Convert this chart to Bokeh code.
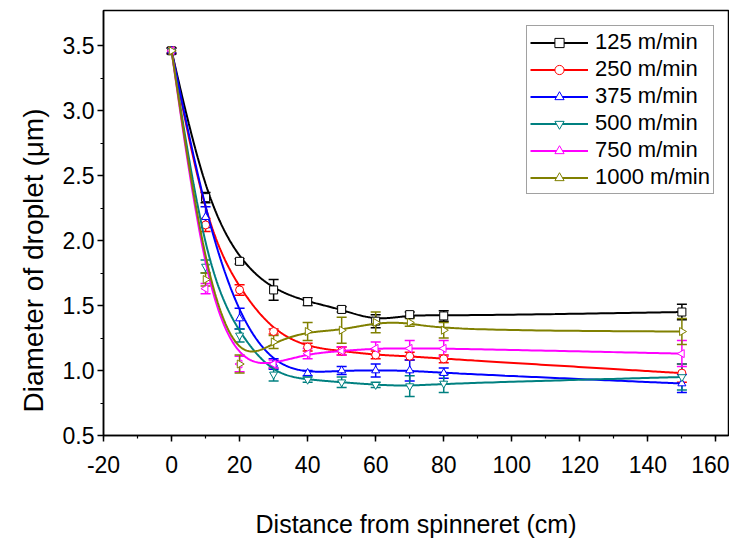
import numpy as np
from bokeh.plotting import figure
from bokeh.models import (Range1d, ColumnDataSource, Whisker, TeeHead, Legend,
                          LegendItem, FixedTicker, PrintfTickFormatter, Title)
from bokeh.embed import file_html
from bokeh.resources import INLINE

# ---------------- data ----------------
distance = [0, 10, 20, 30, 40, 50, 60, 70, 80, 150]
series_labels = ["125 m/min", "250 m/min", "375 m/min", "500 m/min", "750 m/min", "1000 m/min"]

d125 = [3.46, 2.33, 1.84, 1.62, 1.53, 1.47, 1.38, 1.43, 1.42, 1.45]
e125 = [0.02, 0.04, 0.02, 0.08, 0.03, 0.02, 0.05, 0.02, 0.04, 0.06]
d250 = [3.46, 2.12, 1.62, 1.30, 1.18, 1.15, 1.12, 1.11, 1.09, 0.98]
e250 = [0.02, 0.05, 0.04, 0.02, 0.03, 0.03, 0.03, 0.03, 0.03, 0.07]
d375 = [3.46, 2.18, 1.40, 1.05, 0.98, 1.00, 1.00, 1.00, 0.98, 0.90]
e375 = [0.02, 0.08, 0.08, 0.04, 0.02, 0.03, 0.05, 0.08, 0.04, 0.07]
d500 = [3.46, 1.80, 1.27, 0.97, 0.93, 0.91, 0.89, 0.88, 0.90, 0.95]
e500 = [0.02, 0.05, 0.05, 0.05, 0.02, 0.04, 0.02, 0.08, 0.07, 0.10]
d750 = [3.46, 1.63, 1.05, 1.05, 1.13, 1.15, 1.17, 1.17, 1.17, 1.13]
e750 = [0.02, 0.04, 0.06, 0.03, 0.04, 0.03, 0.05, 0.06, 0.06, 0.10]
d1000 = [3.46, 1.70, 1.05, 1.22, 1.30, 1.31, 1.37, 1.37, 1.31, 1.30]
e1000 = [0.02, 0.05, 0.07, 0.05, 0.07, 0.10, 0.08, 0.03, 0.06, 0.10]

values = [d125, d250, d375, d500, d750, d1000]
errors = [e125, e250, e375, e500, e750, e1000]
colors = ["#000000", "#FF0000", "#0000FF", "#008080", "#FF00FF", "#808000"]
markers = ["square", "circle", "triangle", "inverted_triangle", "triangle", "triangle"]
angles = [0, 0, 0, 0, np.pi / 2, -np.pi / 2]

x_ticks = [-20, 0, 20, 40, 60, 80, 100, 120, 140, 160]
y_ticks = [0.5, 1.0, 1.5, 2.0, 2.5, 3.0, 3.5]


def bspline(xs, ys, n=40):
    """Clamped uniform cubic B-spline using the points as control points."""
    px = np.array([xs[0]] * 2 + list(xs) + [xs[-1]] * 2, dtype=float)
    py = np.array([ys[0]] * 2 + list(ys) + [ys[-1]] * 2, dtype=float)
    outx, outy = [], []
    t = np.linspace(0, 1, n)
    b0 = (1 - t) ** 3 / 6
    b1 = (3 * t ** 3 - 6 * t ** 2 + 4) / 6
    b2 = (-3 * t ** 3 + 3 * t ** 2 + 3 * t + 1) / 6
    b3 = t ** 3 / 6
    for i in range(len(px) - 3):
        outx.extend(b0 * px[i] + b1 * px[i + 1] + b2 * px[i + 2] + b3 * px[i + 3])
        outy.extend(b0 * py[i] + b1 * py[i + 1] + b2 * py[i + 2] + b3 * py[i + 3])
    return outx, outy


FONT = "Liberation Sans"

p = figure(width=729, height=544, output_backend="svg", toolbar_location=None,
           x_range=Range1d(-20, 163.7), y_range=Range1d(0.5, 3.77),
           min_border_left=103, min_border_right=1, min_border_top=10, min_border_bottom=109)
p.xgrid.visible = False
p.ygrid.visible = False
p.outline_line_color = "black"
p.outline_line_width = 1.5
p.background_fill_color = "white"
p.border_fill_color = "white"

items = []
for vals, errs, col, mk, ang, lab in zip(values, errors, colors, markers, angles, series_labels):
    cx, cy = bspline(distance, vals)
    lr = p.line(cx, cy, line_color=col, line_width=2)
    src = ColumnDataSource(dict(x=distance, y=vals,
                                lo=[v - e for v, e in zip(vals, errs)],
                                hi=[v + e for v, e in zip(vals, errs)]))
    w = Whisker(source=src, base="x", upper="hi", lower="lo", line_color=col, line_width=1.5,
                upper_head=TeeHead(size=10, line_color=col, line_width=1.5),
                lower_head=TeeHead(size=10, line_color=col, line_width=1.5))
    p.add_layout(w)
    sr = p.scatter("x", "y", source=src, marker=mk, angle=ang, size=8,
                   line_color=col, fill_color="white", line_width=1)
    items.append(LegendItem(label=lab, renderers=[lr, sr]))

legend = Legend(items=items, location=(423, 241), orientation="vertical",
                label_text_font=FONT, label_text_font_size="22px", label_text_color="black",
                label_height=23, glyph_width=58, glyph_height=23, label_standoff=7, spacing=1,
                padding=3, margin=0, border_line_color="#444444", border_line_width=1,
                background_fill_color="white", background_fill_alpha=1)
p.add_layout(legend, "center")

for ax in (p.xaxis[0], p.yaxis[0]):
    ax.axis_line_width = 1.5
    ax.major_tick_line_width = 1.5
    ax.minor_tick_line_width = 1.2
    ax.major_tick_in = 0
    ax.major_tick_out = 6
    ax.minor_tick_in = 0
    ax.minor_tick_out = 3
    ax.major_label_text_font = FONT
    ax.major_label_text_font_size = "23px"
    ax.major_label_text_color = "black"
    ax.axis_label_text_font = FONT
    ax.axis_label_text_font_style = "normal"
    ax.axis_label_text_color = "black"

p.xaxis[0].ticker = FixedTicker(ticks=x_ticks, minor_ticks=list(range(-20, 161, 10)))
p.xaxis[0].formatter = PrintfTickFormatter(format="%d")
p.xaxis[0].axis_label = "Distance from spinneret (cm)"
p.xaxis[0].axis_label_text_font_size = "25px"
p.xaxis[0].major_label_standoff = 14
p.xaxis[0].axis_label_standoff = 34
p.yaxis[0].ticker = FixedTicker(ticks=y_ticks, minor_ticks=[0.5 + 0.25 * i for i in range(13)])
p.yaxis[0].formatter = PrintfTickFormatter(format="%.1f")
p.yaxis[0].major_label_standoff = 3

ytitle = Title(text="Diameter of droplet (μm)", align="left", offset=23, standoff=22,
               text_font=FONT, text_font_size="28px", text_font_style="normal",
               text_color="black")
p.add_layout(ytitle, "left")

open("out.html", "w").write(file_html(p, INLINE))
